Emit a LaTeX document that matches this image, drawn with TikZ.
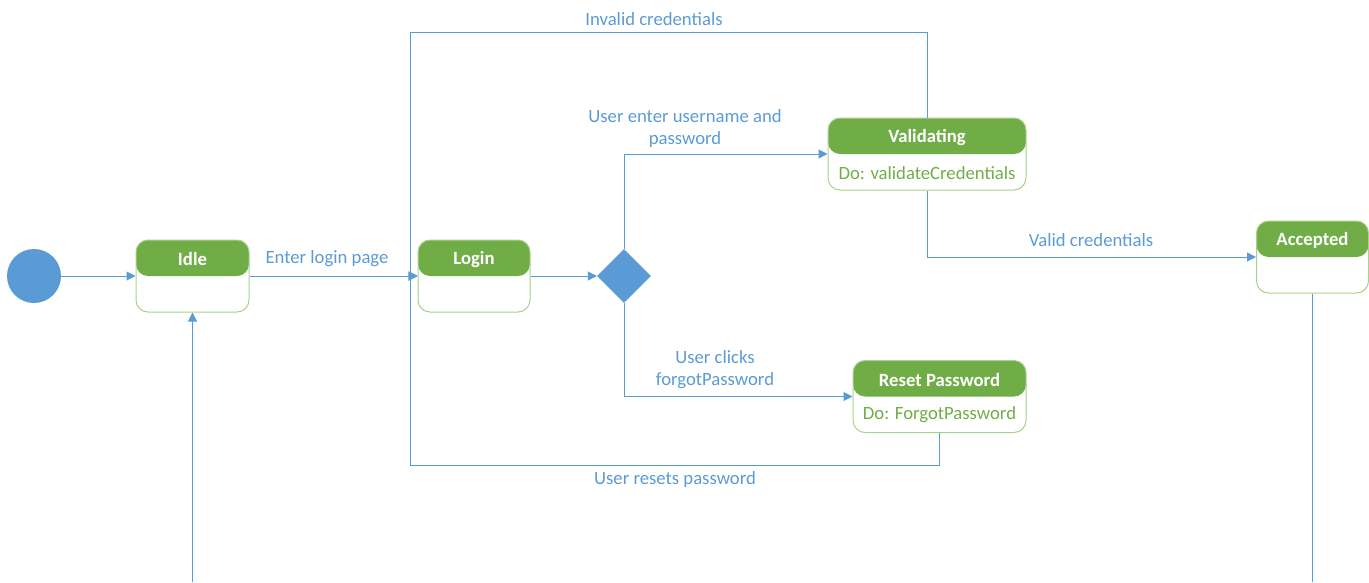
\documentclass[tikz,border=0pt]{standalone}
\usepackage{fontspec}
\setmainfont{Carlito}
\usetikzlibrary{arrows.meta,shapes.geometric}
\definecolor{lineblue}{HTML}{5B9BD5}
\definecolor{hdrgreen}{HTML}{70AD47}
\definecolor{boxgreen}{HTML}{A9D18E}

\begin{document}
\begin{tikzpicture}[x=1pt,y=-1pt,
  font=\fontsize{18.7}{22}\selectfont,
  link/.style={draw=lineblue,line width=1pt,-{Triangle[length=9pt,width=9pt]}},
  wire/.style={draw=lineblue,line width=1pt},
  lbl/.style={text=lineblue,align=center,inner sep=0pt},
  state/.style={draw=boxgreen,line width=1pt,rounded corners=12pt,minimum height=72pt,inner sep=0pt,
    path picture={\fill[hdrgreen] (path picture bounding box.north west) rectangle (path picture bounding box.east);}},
  stitle/.style={text=white,font=\fontsize{18.7}{22}\selectfont\bfseries,inner sep=0pt},
  sbody/.style={text=hdrgreen,inner sep=0pt}]
\useasboundingbox (0,0) rectangle (1369,582);
\node[circle,fill=lineblue,minimum size=54pt,inner sep=0pt] (start) at (34,276) {};
\node[state,minimum width=113pt] (idle) at (192.5,276) {};
\node[state,minimum width=112pt] (login) at (474,276) {};
\node[state,minimum width=198pt] (valid) at (927,154) {};
\node[state,minimum width=112pt] (accepted) at (1312.5,257) {};
\node[state,minimum width=173pt] (reset) at (939.5,396.5) {};
\node[diamond,aspect=1,fill=lineblue,minimum width=54pt,minimum height=54pt,inner sep=0pt] (choice) at (624,276) {};
\node[stitle] (idle-t) at (192.5,259.5) {Idle};
\node[stitle] (login-t) at (474,259.5) {Login};
\node[stitle] (valid-t) at (927,137.5) {Validating};
\node[stitle] (accepted-t) at (1312.5,240.5) {Accepted};
\node[stitle] (reset-t) at (939.5,380) {Reset Password};
\node[sbody] (valid-b) at (927,173) {Do: validateCredentials};
\node[sbody] (reset-b) at (939.5,415) {Do: ForgotPassword};
\coordinate (ltop) at (410,32);
\coordinate (lbot) at (410,465);
\coordinate (bottom) at (0,582);
\draw[link] (start) -- (idle);
\draw[link] (idle) -- (login);
\draw[link] (login) -- (choice);
\draw[link] (choice.north) |- (valid.west);
\draw[link] (choice.south) |- (reset.west);
\draw[link] (valid.north) |- (ltop) |- (login.west);
\draw[link] (reset.south) |- (lbot) |- (login.west);
\draw[link] (valid.south) |- (accepted.west);
\draw[wire] (accepted.south) -- (accepted.south |- bottom);
\draw[link] (idle.south |- bottom) -- (idle.south);
\node[lbl] (enter) at (327,258.5) {Enter login page};
\node[lbl] (invalid) at (654,19.5) {Invalid credentials};
\node[lbl] (userenter) at (685,128.5) {User enter username and\\password};
\node[lbl] (clicks) at (715,369.5) {User clicks\\forgotPassword};
\node[lbl] (validc) at (1091,240.5) {Valid credentials};
\node[lbl] (resets) at (675,479.5) {User resets password};
\end{tikzpicture}
\end{document}
